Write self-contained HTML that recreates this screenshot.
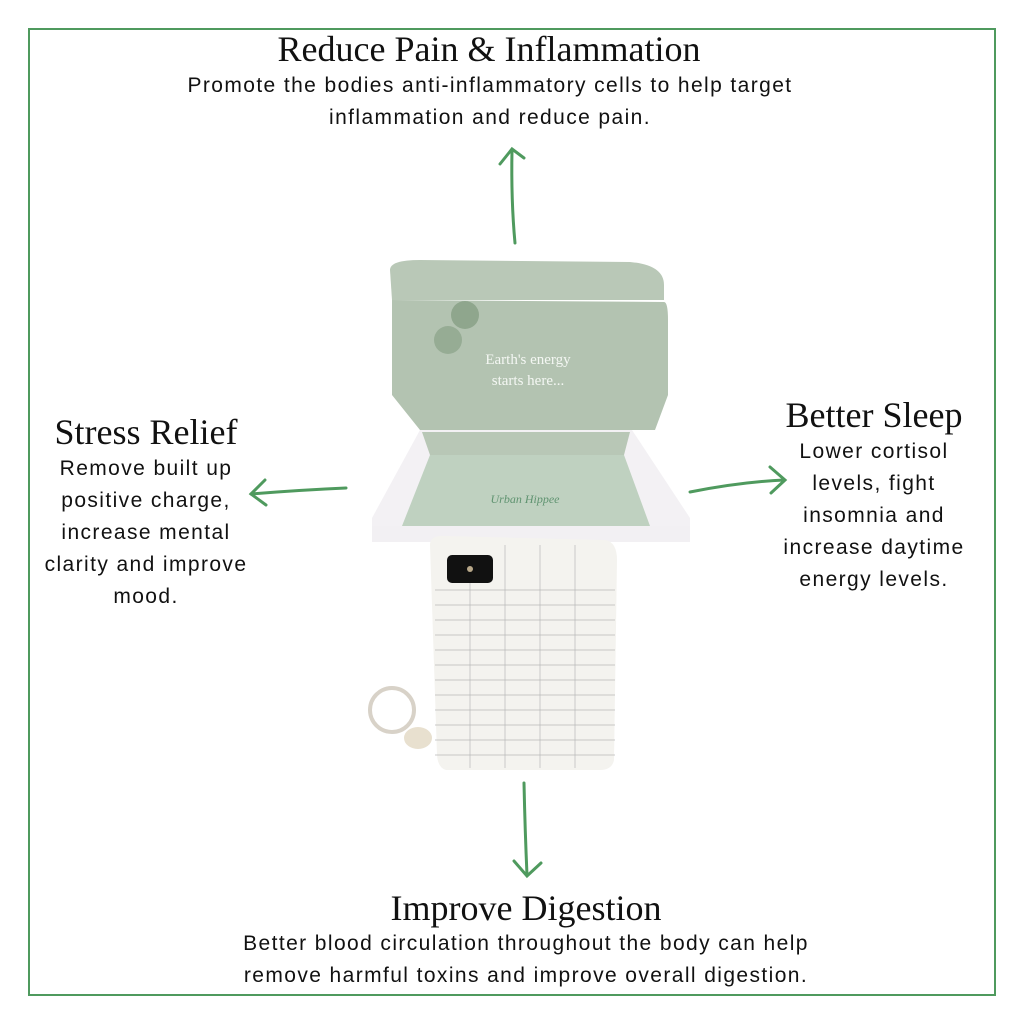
<!DOCTYPE html>
<html><head><meta charset="utf-8"><style>
body{margin:0;background:#fff;}
.wrap{position:relative;width:1024px;height:1024px;overflow:hidden;background:#fff;}
.h{position:absolute;font-family:"Liberation Serif",serif;font-size:36px;color:#111;text-align:center;white-space:nowrap;}
.t{position:absolute;font-family:"Liberation Sans",sans-serif;font-size:21px;line-height:32px;letter-spacing:1.4px;color:#111;text-align:center;white-space:nowrap;}
</style></head><body><div class="wrap">
<svg width="1024" height="1024" style="position:absolute;left:0;top:0">
<rect x="29" y="29" width="966" height="966" fill="none" stroke="#4f9a5e" stroke-width="2"/>
<g stroke="#4f9a5e" stroke-width="3" fill="none" stroke-linecap="round">
<path d="M515 243 Q511 200 512 150"/><path d="M500 164 L512 149 L524 158"/>
<path d="M346 488 Q300 490 251 494"/><path d="M265 480 L251 494 L266 505"/>
<path d="M690 492 Q740 482 784 480"/><path d="M770 467 L785 480 L771 493"/>
<path d="M524 783 Q525 830 527 875"/><path d="M514 861 L527 876 L541 863"/>
</g>
<path d="M390 270 Q390 260 420 260 L630 262 Q664 265 664 285 L664 300 L392 300 Z" fill="#b9c8b7"/>
<path d="M392 300 L664 302 Q668 302 668 320 L668 330 L668 395 L655 430 L420 430 L392 395 Z" fill="#b3c3b1"/>
<circle cx="465" cy="315" r="14" fill="#8fa68d"/><circle cx="448" cy="340" r="14" fill="#96ac94"/>
<text x="528" y="364" font-family="Liberation Serif,serif" font-size="15" fill="#f4f7f3" text-anchor="middle">Earth's energy</text>
<text x="528" y="385" font-family="Liberation Serif,serif" font-size="15" fill="#f4f7f3" text-anchor="middle">starts here...</text>
<path d="M420 430 L632 430 L690 518 L690 540 L372 540 L372 518 Z" fill="#f3f1f4"/>
<path d="M422 432 L630 432 L624 455 L430 455 Z" fill="#b8c7b6"/>
<path d="M430 455 L624 455 L650 526 L402 526 Z" fill="#bfd1c0"/>
<text x="525" y="503" font-family="Liberation Serif,serif" font-style="italic" font-size="12" fill="#5f9370" text-anchor="middle">Urban Hippee</text>
<rect x="372" y="526" width="318" height="16" fill="#f2f0f3"/>
<path d="M430 545 Q430 535 445 536 L605 540 Q617 542 617 560 L614 760 Q612 770 600 770 L446 770 Q438 768 437 755 Z" fill="#f4f3ef"/>
<g stroke="#b8b8b8" stroke-width="0.7">
<line x1="435" y1="590" x2="615" y2="590"/><line x1="435" y1="605" x2="615" y2="605"/><line x1="435" y1="620" x2="615" y2="620"/><line x1="435" y1="635" x2="615" y2="635"/><line x1="435" y1="650" x2="615" y2="650"/><line x1="435" y1="665" x2="615" y2="665"/><line x1="435" y1="680" x2="615" y2="680"/><line x1="435" y1="695" x2="615" y2="695"/><line x1="435" y1="710" x2="615" y2="710"/><line x1="435" y1="725" x2="615" y2="725"/><line x1="435" y1="740" x2="615" y2="740"/><line x1="435" y1="755" x2="615" y2="755"/>
<line x1="470" y1="580" x2="470" y2="768"/><line x1="505" y1="545" x2="505" y2="768"/><line x1="540" y1="545" x2="540" y2="768"/><line x1="575" y1="545" x2="575" y2="768"/>
</g>
<rect x="447" y="555" width="46" height="28" rx="5" fill="#111"/>
<circle cx="470" cy="569" r="3" fill="#b9a88a"/>
<circle cx="392" cy="710" r="22" fill="none" stroke="#d8d2c8" stroke-width="4"/>
<ellipse cx="418" cy="738" rx="14" ry="11" fill="#e8e0cf"/>
</svg>
<div class="h" style="left:0;width:978px;top:28px">Reduce Pain &amp; Inflammation</div>
<div class="t" style="left:150px;width:680px;top:70px">Promote the bodies anti-inflammatory cells to help target<br>inflammation and reduce pain.</div>
<div class="h" style="left:36px;width:220px;top:411px">Stress Relief</div>
<div class="t" style="left:36px;width:220px;top:453px">Remove built up<br>positive charge,<br>increase mental<br>clarity and improve<br>mood.</div>
<div class="h" style="left:770px;width:208px;top:394px">Better Sleep</div>
<div class="t" style="left:770px;width:208px;top:436px">Lower cortisol<br>levels, fight<br>insomnia and<br>increase daytime<br>energy levels.</div>
<div class="h" style="left:0;width:1052px;top:887px">Improve Digestion</div>
<div class="t" style="left:180px;width:692px;top:928px">Better blood circulation throughout the body can help<br>remove harmful toxins and improve overall digestion.</div>
</div></body></html>
